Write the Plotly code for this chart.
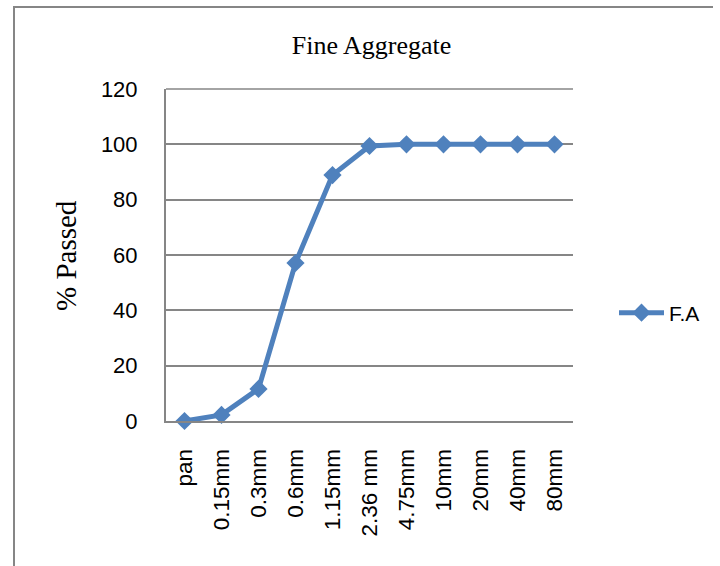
import plotly.graph_objects as go

sieve_sizes = ["pan", "0.15mm", "0.3mm", "0.6mm", "1.15mm", "2.36 mm", "4.75mm", "10mm", "20mm", "40mm", "80mm"]
percent_passed = [0, 2.2, 11.6, 57.1, 88.9, 99.4, 100, 100, 100, 100, 100]
y_ticks = [0, 20, 40, 60, 80, 100, 120]

W, H = 720, 566
L, R, T, B = 166, 573, 89, 421
pw, ph = R - L, B - T


def px(x):
    return (x - L) / pw


def py(y):
    return (B - y) / ph


BLUE = "#4F81BD"
GRAY = "#868686"
SANS = "Liberation Sans"
SERIF = "Liberation Serif"

fig = go.Figure()
fig.add_trace(go.Scatter(
    x=sieve_sizes, y=percent_passed, name="F.A", mode="lines+markers",
    line=dict(color=BLUE, width=5),
    marker=dict(symbol="diamond", size=14, color=BLUE),
    cliponaxis=False,
))

border = dict(color=GRAY, width=2)
fig.add_shape(type="line", xref="paper", yref="paper", x0=px(14), x1=px(14), y0=py(7), y1=py(600), line=border)
fig.add_shape(type="line", xref="paper", yref="paper", x0=px(13), x1=px(713), y0=py(7), y1=py(7), line=border)
fig.add_shape(type="line", xref="paper", yref="paper", x0=0, x1=1, y0=1, y1=1, line=dict(color=GRAY, width=1.5))

fig.add_annotation(text="% Passed", xref="paper", yref="paper", x=px(66), y=py(256),
                   xanchor="center", yanchor="middle", textangle=-90, showarrow=False,
                   font=dict(family=SERIF, size=29, color="black"))

fig.update_layout(
    width=W, height=H,
    margin=dict(l=L, r=W - R, t=T, b=H - B, autoexpand=False),
    paper_bgcolor="white", plot_bgcolor="white",
    title=dict(text="Fine Aggregate", x=371.5 / W, xanchor="center", y=1 - 45 / H, yanchor="middle",
               font=dict(family=SERIF, size=26, color="black")),
    showlegend=True,
    legend=dict(x=px(614), xanchor="left", y=py(313), yanchor="middle",
                font=dict(family=SANS, size=21, color="black"),
                bgcolor="rgba(0,0,0,0)", itemwidth=45),
    font=dict(family=SANS, size=21, color="black"),
)
fig.update_xaxes(
    type="category", tickangle=-90, showgrid=False, showline=True, linecolor=GRAY, linewidth=2,
    ticks="", tickfont=dict(family=SANS, size=22.5, color="black"),
    ticklabelstandoff=17, range=[-0.5, len(sieve_sizes) - 0.5],
)
fig.update_yaxes(
    range=[0, 120], tickvals=y_ticks, showgrid=True, gridcolor=GRAY, gridwidth=1.5,
    showline=True, linecolor=GRAY, linewidth=2, ticks="", zeroline=False,
    tickfont=dict(family=SANS, size=22, color="black"), ticklabelstandoff=22,
)

fig.write_html("out.html", config={"displayModeBar": False},
               post_script="document.body.style.margin='0';")
